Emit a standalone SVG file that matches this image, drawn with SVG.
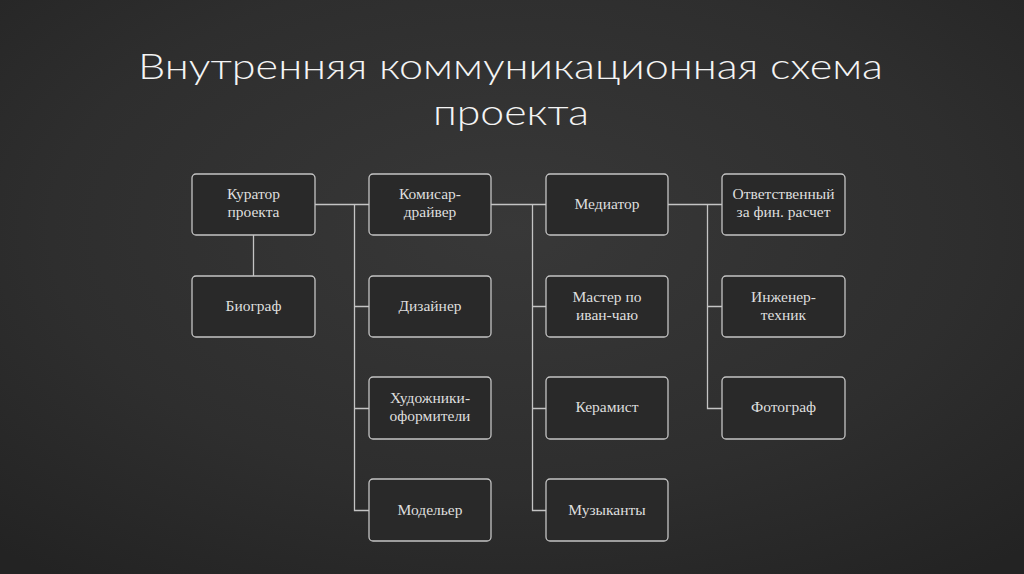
<svg xmlns="http://www.w3.org/2000/svg" width="1024" height="574" viewBox="0 0 1024 574">
<defs>
<radialGradient id="bg" cx="0.5" cy="0.4" r="0.75">
<stop offset="0" stop-color="#383838"/>
<stop offset="0.6" stop-color="#2e2e2e"/>
<stop offset="1" stop-color="#232323"/>
</radialGradient>
<style>
.box{fill:#292929;stroke:#c4c4c4;stroke-width:1.3}
.t{font-family:"Liberation Serif","Times New Roman","DejaVu Serif",serif;font-size:15.5px;fill:#dedede;text-anchor:middle}
.title{font-family:"Lato","Open Sans",sans-serif;font-weight:300;font-size:35px;fill:#f4f4f4}
.c{stroke:#c4c4c4;stroke-width:1.3;fill:none}
</style>
</defs>
<rect width="1024" height="574" fill="url(#bg)"/>
<g id="title">
<text class="title" x="138" y="79" textLength="745" lengthAdjust="spacingAndGlyphs">Внутренняя коммуникационная схема</text>
<text class="title" x="433" y="125" textLength="156" lengthAdjust="spacingAndGlyphs">проекта</text>
</g>
<g id="connectors">
<path class="c" d="M315 204.5H369M253.5 234V276M354.5 204.5V510.5H369M354.5 306.5H369M354.5 408.5H369"/>
<path class="c" d="M491 204.5H546M532.5 204.5V510.5H546M532.5 306.5H546M532.5 408.5H546"/>
<path class="c" d="M668 204.5H722M707.5 204.5V408.5H722M707.5 306.5H722"/>
</g>
<g id="kurator" font-family="Liberation Serif, serif"><rect class="box" x="192" y="174" width="123" height="61" rx="4"/><text class="t" x="253.5" y="199">Куратор</text><text class="t" x="253.5" y="217">проекта</text></g>
<g id="biograf" font-family="Liberation Serif, serif"><rect class="box" x="192" y="276" width="123" height="61" rx="4"/><text class="t" x="253.5" y="311">Биограф</text></g>
<g id="komisar" font-family="Liberation Serif, serif"><rect class="box" x="369" y="174" width="122" height="61" rx="4"/><text class="t" x="430" y="199">Комисар-</text><text class="t" x="430" y="217">драйвер</text></g>
<g id="dizainer" font-family="Liberation Serif, serif"><rect class="box" x="369" y="276" width="122" height="61" rx="4"/><text class="t" x="430" y="311">Дизайнер</text></g>
<g id="hudozhniki" font-family="Liberation Serif, serif"><rect class="box" x="369" y="377" width="122" height="62" rx="4"/><text class="t" x="430" y="403">Художники-</text><text class="t" x="430" y="421">оформители</text></g>
<g id="modeler" font-family="Liberation Serif, serif"><rect class="box" x="369" y="479" width="122" height="62" rx="4"/><text class="t" x="430" y="515">Модельер</text></g>
<g id="mediator" font-family="Liberation Serif, serif"><rect class="box" x="546" y="174" width="122" height="61" rx="4"/><text class="t" x="607" y="209">Медиатор</text></g>
<g id="master" font-family="Liberation Serif, serif"><rect class="box" x="546" y="276" width="122" height="61" rx="4"/><text class="t" x="607" y="302">Мастер по</text><text class="t" x="607" y="320">иван-чаю</text></g>
<g id="keramist" font-family="Liberation Serif, serif"><rect class="box" x="546" y="377" width="122" height="62" rx="4"/><text class="t" x="607" y="412">Керамист</text></g>
<g id="muzykanty" font-family="Liberation Serif, serif"><rect class="box" x="546" y="479" width="122" height="62" rx="4"/><text class="t" x="607" y="515">Музыканты</text></g>
<g id="otvetstvenny" font-family="Liberation Serif, serif"><rect class="box" x="722" y="174" width="123" height="61" rx="4"/><text class="t" x="783.5" y="199">Ответственный</text><text class="t" x="783.5" y="217">за фин. расчет</text></g>
<g id="inzhener" font-family="Liberation Serif, serif"><rect class="box" x="722" y="276" width="123" height="61" rx="4"/><text class="t" x="783.5" y="302">Инженер-</text><text class="t" x="783.5" y="320">техник</text></g>
<g id="fotograf" font-family="Liberation Serif, serif"><rect class="box" x="722" y="377" width="123" height="62" rx="4"/><text class="t" x="783.5" y="412">Фотограф</text></g>
</svg>
